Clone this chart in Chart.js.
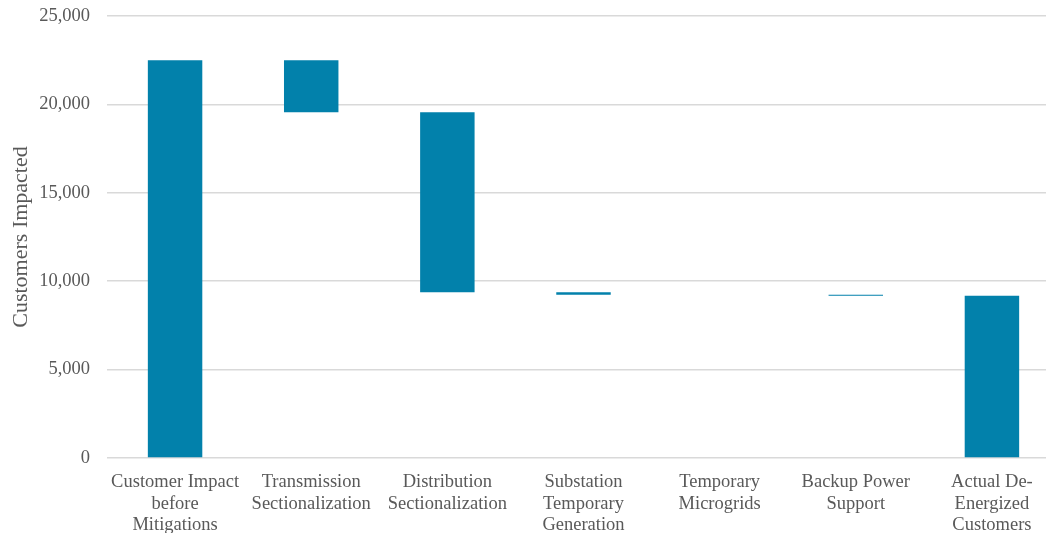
<!DOCTYPE html>
<html>
<head>
<meta charset="utf-8">
<script src="https://cdn.jsdelivr.net/npm/chart.js@4"></script>
<style>
  html, body { margin: 0; padding: 0; background: #fff; overflow: hidden; }
  #wrap { width: 1060px; height: 533px; }
</style>
</head>
<body>
<div id="wrap"><canvas id="chart"></canvas></div>
<script>
const categories = [
  ['Customer Impact', 'before', 'Mitigations'],
  ['Transmission', 'Sectionalization'],
  ['Distribution', 'Sectionalization'],
  ['Substation', 'Temporary', 'Generation'],
  ['Temporary', 'Microgrids'],
  ['Backup Power', 'Support'],
  ['Actual De-', 'Energized', 'Customers']
];
// first and last are totals, the rest are reductions
const changes = [22500, -2950, -10170, -150, 0, -50, 9180];
const isTotal = [true, false, false, false, false, false, true];

const yTicks = [0, 5000, 10000, 15000, 20000, 25000];

// build floating ranges for the waterfall
let running = 0;
const ranges = changes.map((v, i) => {
  if (isTotal[i]) {
    running = v;
    return [0, v];
  }
  const start = running;
  running = running + v;
  return [running, start];
});

const serif = '"Liberation Serif", "Times New Roman", serif';

new Chart(document.getElementById('chart'), {
  type: 'bar',
  data: {
    labels: categories,
    datasets: [{
      data: ranges,
      backgroundColor: '#0281ab',
      barPercentage: 0.4,
      categoryPercentage: 1
    }]
  },
  options: {
    responsive: true,
    maintainAspectRatio: false,
    animation: false,
    layout: { autoPadding: false, padding: { top: 16, right: 0, left: 0, bottom: 0 } },
    plugins: {
      legend: { display: false },
      tooltip: { enabled: false }
    },
    scales: {
      x: {
        grid: { display: false },
        border: { display: false },
        afterFit: axis => { axis.height = 75; },
        ticks: {
          color: '#595959',
          font: { family: serif, size: 18.5, lineHeight: 1.15 },
          maxRotation: 0,
          autoSkip: false,
          padding: 6
        }
      },
      y: {
        min: yTicks[0],
        max: yTicks[yTicks.length - 1],
        afterBuildTicks: axis => { axis.ticks = yTicks.map(v => ({ value: v })); },
        afterFit: axis => {
          axis.width = 107;
          axis.paddingTop = 0;
          axis.paddingBottom = 0;
        },
        grid: { color: '#d9d9d9', lineWidth: 1.5, drawTicks: false },
        border: { display: false },
        ticks: {
          color: '#595959',
          font: { family: serif, size: 18.5 },
          padding: 17,
          callback: v => v.toLocaleString('en-US')
        },
        title: {
          display: true,
          text: 'Customers Impacted',
          color: '#595959',
          font: { family: serif, size: 22 },
          padding: { top: 8, bottom: 0 }
        }
      }
    }
  }
});
</script>
</body>
</html>
